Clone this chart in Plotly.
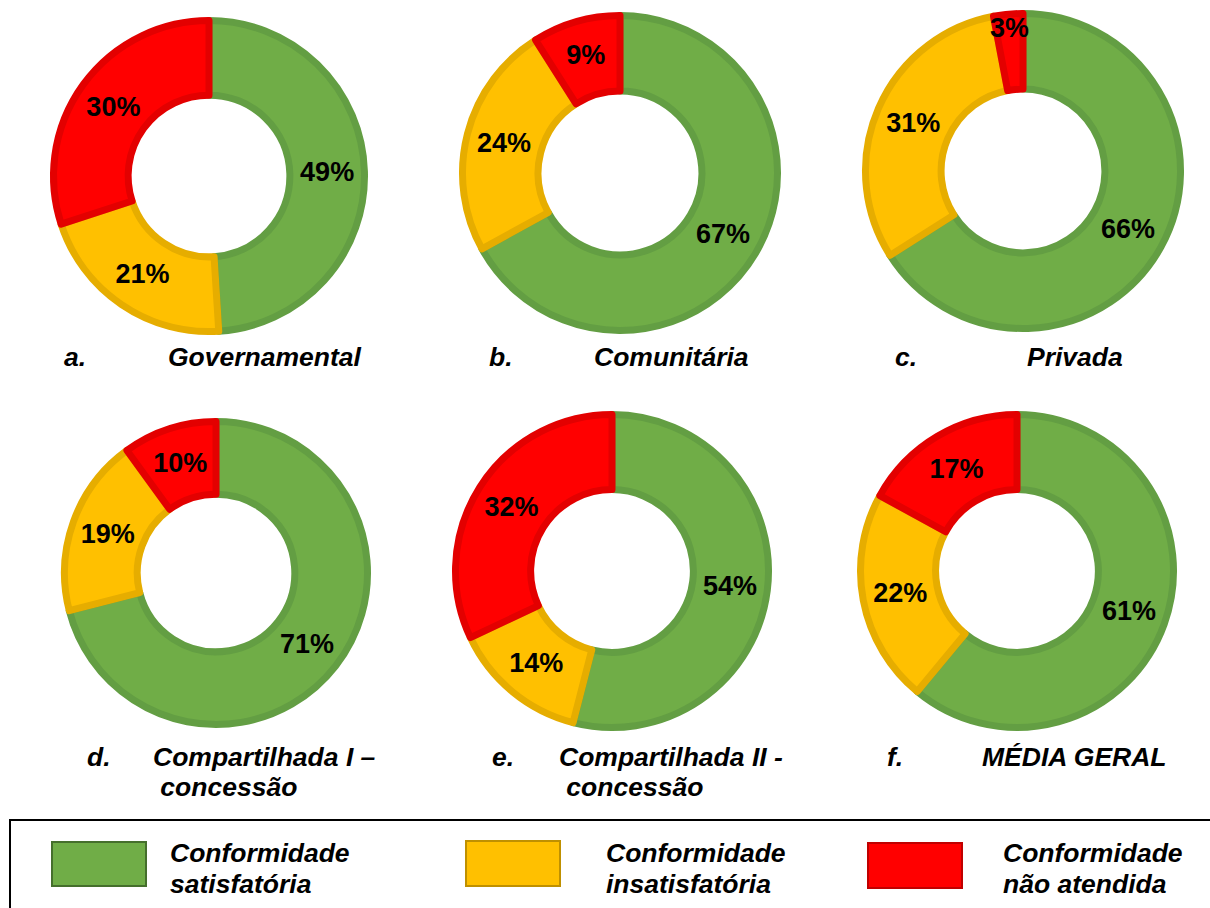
import plotly.graph_objects as go

W, H = 1210, 908

# ---- data ----
categories = ["Conformidade satisfatória", "Conformidade insatisfatória", "Conformidade não atendida"]
governamental = [49, 21, 30]
comunitaria = [67, 24, 9]
privada = [66, 31, 3]
compartilhada_1 = [71, 19, 10]
compartilhada_2 = [54, 14, 32]
media_geral = [61, 22, 17]

panel_letters = ["a.", "b.", "c.", "d.", "e.", "f."]
panel_titles = ["Governamental", "Comunitária", "Privada",
                "Compartilhada I –<br> concessão", "Compartilhada II -<br> concessão", "MÉDIA GERAL"]
legend_line1 = ["Conformidade", "Conformidade", "Conformidade"]
legend_line2 = ["satisfatória", "insatisfatória", "não atendida"]

series = [governamental, comunitaria, privada, compartilhada_1, compartilhada_2, media_geral]

# ---- styles ----
fills = ["#70AD47", "#FFC000", "#FF0000"]
borders = ["#639E43", "#E6AD00", "#E30000"]
swatch_borders = ["#456F2C", "#BF9000", "#C00000"]
FONT = "Arial, Liberation Sans, sans-serif"
LABEL_SIZE = 27
TEXT_SIZE = 26.5
LINE_W = 7

# pixel geometry of each donut: (cx, cy, visible outer radius)
geom = [(209, 176, 159), (620, 173, 161), (1023, 171, 161),
        (216, 573, 155), (612, 571, 160), (1017, 571, 160)]


def fx(x):
    return x / W


def fy(y):
    return 1 - y / H


def bi(s):
    if s.startswith(" "):
        s = "&nbsp;" + s[1:]
    return f"<b><i>{s}</i></b>"


fig = go.Figure()
for vals, (cx, cy, rv) in zip(series, geom):
    r = rv - LINE_W / 2
    fig.add_trace(go.Pie(
        labels=categories,
        values=vals,
        hole=0.52,
        sort=False,
        direction="clockwise",
        rotation=0,
        marker=dict(colors=fills, line=dict(color=borders, width=LINE_W)),
        texttemplate="<b>%{value}%</b>",
        textposition="inside",
        insidetextorientation="horizontal",
        textfont=dict(family=FONT, size=LABEL_SIZE, color="black"),
        showlegend=False,
        hoverinfo="label+value",
        domain=dict(x=[fx(cx - r), fx(cx + r)], y=[fy(cy + r), fy(cy - r)]),
    ))

annotations = []
# panel captions: (letter_x, title_x, title line y)
caps = [(62, 166, 357), (487, 592, 357), (893, 1025, 357),
        (85, 151, 757), (490, 557, 757), (885, 980, 757)]
for letter, title, (lx, tx, ty) in zip(panel_letters, panel_titles, caps):
    annotations.append(dict(x=fx(lx), y=fy(ty), xref="paper", yref="paper",
                            xanchor="left", yanchor="middle", showarrow=False,
                            text=bi(letter),
                            font=dict(family=FONT, size=TEXT_SIZE, color="black")))
    for i, ln in enumerate(title.split("<br>")):
        annotations.append(dict(x=fx(tx), y=fy(ty + 30 * i), xref="paper", yref="paper",
                                xanchor="left", yanchor="middle", showarrow=False,
                                text=bi(ln),
                                font=dict(family=FONT, size=TEXT_SIZE, color="black")))

shapes = []
# legend frame
shapes.append(dict(type="rect", xref="paper", yref="paper",
                   x0=fx(10), x1=fx(1230), y0=fy(930), y1=fy(820),
                   line=dict(color="black", width=2), fillcolor="rgba(0,0,0,0)"))
sw = [(52, 842, 146, 886), (466, 841, 560, 886), (868, 843, 962, 888)]
tx_leg = [168, 604, 1001]
for i in range(3):
    x0, y0, x1, y1 = sw[i]
    shapes.append(dict(type="rect", xref="paper", yref="paper",
                       x0=fx(x0), x1=fx(x1), y0=fy(y1), y1=fy(y0),
                       fillcolor=fills[i], line=dict(color=swatch_borders[i], width=2)))
    annotations.append(dict(x=fx(tx_leg[i]), y=fy(853), xref="paper", yref="paper",
                            xanchor="left", yanchor="middle", showarrow=False,
                            text=bi(legend_line1[i]),
                            font=dict(family=FONT, size=TEXT_SIZE, color="black")))
    annotations.append(dict(x=fx(tx_leg[i]), y=fy(884), xref="paper", yref="paper",
                            xanchor="left", yanchor="middle", showarrow=False,
                            text=bi(legend_line2[i]),
                            font=dict(family=FONT, size=TEXT_SIZE, color="black")))

fig.update_layout(
    width=W, height=H,
    margin=dict(l=0, r=0, t=0, b=0),
    paper_bgcolor="white", plot_bgcolor="white",
    uniformtext=dict(minsize=LABEL_SIZE, mode="show"),
    annotations=annotations,
    shapes=shapes,
    font=dict(family=FONT),
)

fig.write_html("out.html",
               config={"displayModeBar": False},
               post_script="document.body.style.margin='0px';document.body.style.overflow='hidden';")
